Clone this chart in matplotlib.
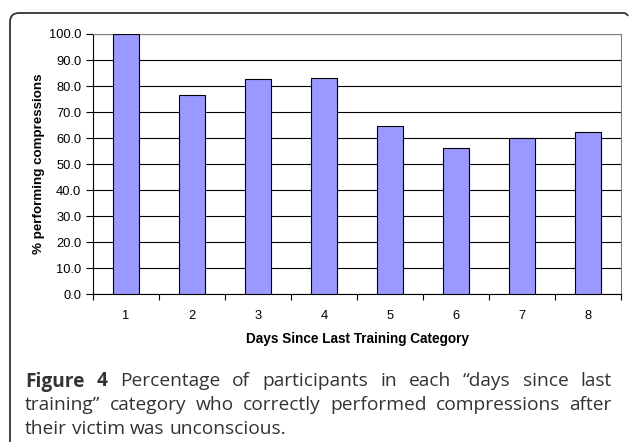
import matplotlib
matplotlib.use("Agg")
import matplotlib.pyplot as plt
from matplotlib.path import Path
from matplotlib.patches import PathPatch

categories = ["1", "2", "3", "4", "5", "6", "7", "8"]
values = [100.0, 76.4, 82.8, 83.2, 64.8, 56.2, 60.2, 62.4]
yticks = [0, 10, 20, 30, 40, 50, 60, 70, 80, 90, 100]
ylabel = "% performing compressions"
xlabel = "Days Since Last Training Category"
caption_lines = [
    [("Figure", True), ("4", True), ("Percentage", False), ("of", False), ("participants", False),
     ("in", False), ("each", False), ("\u201cdays", False), ("since", False), ("last", False)],
    [("training\u201d", False), ("category", False), ("who", False), ("correctly", False),
     ("performed", False), ("compressions", False), ("after", False)],
    [("their", False), ("victim", False), ("was", False), ("unconscious.", False)],
]

W, H = 629, 442
fig = plt.figure(figsize=(W / 100, H / 100), dpi=100)
plt.rcParams['font.family'] = ['Liberation Sans', 'DejaVu Sans']

ax = fig.add_axes([93 / W, 1 - 294.3 / H, 528 / W, 260.3 / H])
x = list(range(len(categories)))
ax.bar(x, values, width=0.4, color="#9999FF", edgecolor="black", linewidth=0.8, zorder=3)
ax.set_xlim(-0.5, len(categories) - 0.5)
ax.set_ylim(0, 100)
ax.set_yticks(yticks)
ax.set_yticklabels([f"{v:.1f}" for v in yticks], fontsize=9.3)
ax.set_xticks(x)
ax.set_xticklabels(categories, fontsize=9.3)
ax.tick_params(axis="x", length=0, pad=11)
ax.set_xticks([i + 0.5 for i in range(-1, len(categories))], minor=True)
ax.tick_params(axis="x", which="minor", length=4, width=0.8, direction="out")
ax.tick_params(axis="y", length=5, width=0.8, direction="out", pad=3.5)
ax.yaxis.grid(True, color="black", linewidth=0.8, zorder=0)
ax.set_axisbelow(True)
for s in ("top", "right"):
    ax.spines[s].set_color("#808080")
    ax.spines[s].set_linewidth(0.8)
for s in ("left", "bottom"):
    ax.spines[s].set_color("black")
    ax.spines[s].set_linewidth(0.8)
ax.set_ylabel(ylabel, fontsize=9.6, fontweight="bold")
ax.yaxis.set_label_coords(-(93 - 45) / 528, 0.5)
ax.set_xlabel(xlabel, fontsize=9.8, fontweight="bold")
ax.xaxis.set_label_coords(0.5, -(332 - 294.3) / 260.3)

# frame: left and top edges with rounded corner
def fx(px):
    return px / W

def fy(py):
    return 1 - py / H

r = 9
verts = [(fx(10), fy(442)), (fx(10), fy(13 + r)), (fx(10), fy(13)), (fx(10 + r), fy(13)),
         (fx(624), fy(13)), (fx(627), fy(13.5)), (fx(628), fy(16))]
codes = [Path.MOVETO, Path.LINETO, Path.CURVE3, Path.CURVE3, Path.LINETO, Path.CURVE3, Path.CURVE3]
fig.patches.append(PathPatch(Path(verts, codes), transform=fig.transFigure, fill=False,
                             edgecolor="#333333", linewidth=1.3))

# caption, justified
renderer = fig.canvas.get_renderer()
left, right = 25, 612
line_y = [386.5, 410.5, 434.5]
cap_font = ['Open Sans', 'DejaVu Sans']
cap_size = 13.8
for li, words in enumerate(caption_lines):
    texts = []
    for w, b in words:
        t = fig.text(0, fy(line_y[li]), w, fontsize=cap_size, family=cap_font,
                     fontweight="bold" if b else "normal", color="#333333",
                     va="baseline", ha="left")
        texts.append(t)
    widths = [t.get_window_extent(renderer).width for t in texts]
    if li < len(caption_lines) - 1:
        gap = (right - left - sum(widths)) / (len(texts) - 1)
    else:
        gap = cap_size * 100 / 72 * 0.26
    pos = left
    for t, wd in zip(texts, widths):
        t.set_x(fx(pos))
        pos += wd + gap

fig.savefig("out.png", dpi=100)
